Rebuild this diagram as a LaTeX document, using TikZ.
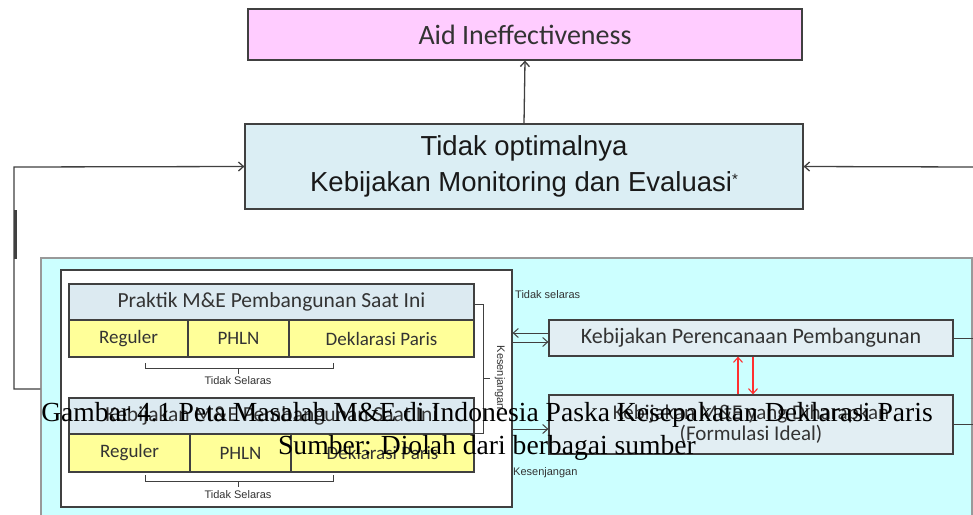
\documentclass[tikz,border=0pt]{standalone}
\usepackage{fontspec}
\setmainfont{Liberation Serif}
\newfontfamily\fcal{Carlito}
\newfontfamily\fari{Liberation Sans}
\newfontfamily\fser{Liberation Serif}
\usetikzlibrary{arrows.meta}
\definecolor{linegray}{HTML}{404040}
\definecolor{aidpink}{HTML}{FFCCFF}
\definecolor{midblue}{HTML}{DBEEF4}
\definecolor{panelcyan}{HTML}{CCFFFF}
\definecolor{barblue}{HTML}{DCEAF1}
\definecolor{cellyellow}{HTML}{FFFF99}
\definecolor{polblue}{HTML}{E2EEF3}
\definecolor{txtgray}{HTML}{333333}
\definecolor{redarrow}{HTML}{FF3030}
\tikzset{
  box/.style={draw=linegray, line width=1.2pt, inner sep=0pt, align=center, text=txtgray},
  titlebar/.style={box, fill=barblue, minimum width=405pt, minimum height=36pt, font=\fcal\fontsize{21.5}{24}\selectfont},
  cell/.style={box, fill=cellyellow, font=\fcal\fontsize{19}{22}\selectfont},
  polbox/.style={box, fill=polblue, minimum width=404pt, font=\fcal\fontsize{22}{23}\selectfont},
  conn/.style={draw=linegray, line width=1.3pt, -{Straight Barb[length=5pt,width=9pt]}},
  thin/.style={draw=linegray, line width=1pt},
  small/.style={font=\fari\fontsize{11}{13}\selectfont, text=txtgray, inner sep=0pt},
  redarr/.style={draw=redarrow, line width=1.1pt, -{Straight Barb[length=5pt,width=9pt]}},
  caption/.style={font=\fser\fontsize{27.6}{30}\selectfont, inner sep=0pt, text=black}
}
\begin{document}
\begin{tikzpicture}[x=1pt,y=-1pt]
\clip (0,0) rectangle (973,514);
\fill[white] (0,0) rectangle (973,514);

% upper chain
\node[box, fill=aidpink, minimum width=554pt, minimum height=51pt,
      font=\fcal\fontsize{28}{30}\selectfont] (aid) at (525,34.5) {Aid Ineffectiveness};
\node[box, fill=midblue, minimum width=558pt, minimum height=85pt,
      font=\fari\fontsize{27.5}{36}\selectfont, text=black!90] (mon) at (524,166.5)
      {Tidak optimalnya\\Kebijakan Monitoring dan Evaluasi\raisebox{0.5ex}{\fontsize{15}{15}\selectfont *}};
\draw[conn] (mon.north) -- (aid.south);

% outer panel and inner frame
\node[draw=gray!80, line width=1.2pt, fill=panelcyan, minimum width=931pt, minimum height=270pt, inner sep=0pt]
  (panel) at (506.5,393) {};
\node[draw=linegray, line width=1.2pt, fill=white, minimum width=451pt, minimum height=237pt, inner sep=0pt]
  (frame) at (286.5,388.5) {};

% feedback connectors into the middle box
\coordinate (rin) at (973,167);
\draw[conn] (rin) -- (mon.east);
\draw[conn] (panel.west |- 0,389) -- (14,389) -- (14,167) -- (mon.west);
\draw[linegray, line width=3pt] (15,210) -- (15,259);

% current practice group
\node[titlebar] (prak) at (271.5,302) {Praktik M\&E Pembangunan Saat Ini};
\node[cell, minimum width=119pt, minimum height=37pt] (reg1) at (128.5,338.5) {Reguler};
\node[cell, minimum width=101pt, minimum height=37pt] (phl1) at (238.5,338.5) {PHLN};
\node[cell, minimum width=185pt, minimum height=37pt] (dek1) at (381.5,338.5) {Deklarasi Paris};
\draw[thin] (145,363) -- (145,368) -- (333,368) -- (333,363);
\draw[thin] (238,368) -- (238,374);
\node[small] (ts1) at (238,381) {Tidak Selaras};

% current policy group
\node[titlebar] (kebn) at (271.5,416) {Kebijakan M\&E Pembangunan Saat Ini};
\node[cell, minimum width=121pt, minimum height=38pt] (reg2) at (129.5,453) {Reguler};
\node[cell, minimum width=101pt, minimum height=38pt] (phl2) at (240.5,453) {PHLN};
\node[cell, minimum width=183pt, minimum height=38pt] (dek2) at (382.5,453) {Deklarasi Paris};
\draw[thin] (145,475) -- (145,481) -- (333,481) -- (333,475);
\draw[thin] (238,481) -- (238,487);
\node[small] (ts2) at (238,495) {Tidak Selaras};

% gap bracket between the two groups
\draw[thin] (prak.east |- 0,304) -- (483,304) -- (483,433) -- (kebn.east |- 0,433);
\draw[thin] (483,378) -- (490,378);
\node[small, rotate=-90] (ksj1) at (500,378) {Kesenjangan};

% planning policy and expected policy
\node[polbox, minimum height=36pt] (kpp) at (751,338) {Kebijakan Perencanaan Pembangunan};
\node[polbox, minimum height=59pt, font=\fcal\fontsize{21}{21}\selectfont] (kme) at (751,424.5)
  {Kebijakan M\&E yang Diharapkan\\(Formulasi Ideal)};
\draw[conn, line width=1pt] (kpp.west |- 0,333) -- (frame.east |- 0,333);
\draw[conn, line width=1pt] (frame.east |- 0,342) -- (kpp.west |- 0,342);
\draw[conn, line width=1pt] (frame.east |- 0,429) -- (kme.west |- 0,429);
\node[small, anchor=west] (tsl) at (515,295) {Tidak selaras};
\node[small, anchor=west] (ksj2) at (513,473) {Kesenjangan};
\draw[redarr] (kme.north -| 738,0) -- (kpp.south -| 738,0);
\draw[redarr] (kpp.south -| 753,0) -- (kme.north -| 753,0);
\draw[thin] (kpp.east) -- (panel.east |- kpp.east);
\draw[thin] (kme.east |- 0,424) -- (panel.east |- 0,424);

% caption lines
\node[caption, anchor=base] (cap1) at (487,421) {Gambar 4.1 Peta Masalah M\&E di Indonesia Paska Kesepakatan Deklarasi Paris};
\node[caption, anchor=base] (cap2) at (487,454) {Sumber: Diolah dari berbagai sumber};
\end{tikzpicture}
\end{document}
